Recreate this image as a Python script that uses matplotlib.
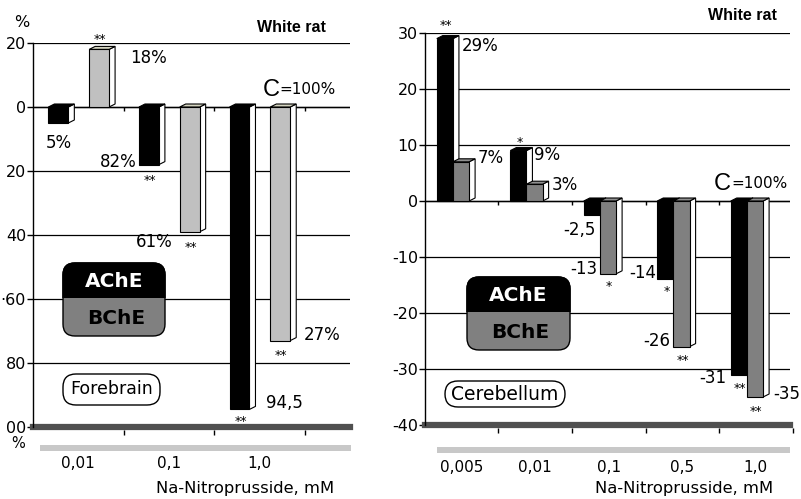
import matplotlib.pyplot as plt
from matplotlib.patches import Polygon, FancyBboxPatch, Rectangle

plt.rcParams['font.family'] = ['DejaVu Sans']

# Forebrain panel (left)
fore_doses = ['0,01', '0,1', '1,0']
fore_ache = [-5, -18, -94.5]
fore_bche = [18, -39, -73]
fore_ache_txt = ['5%', '82%', '94,5']
fore_bche_txt = ['18%', '61%', '27%']
fore_ache_sig = ['', '**', '**']
fore_bche_sig = ['**', '**', '**']
fore_yticks = [20, 0, -20, -40, -60, -80, -100]
fore_yticklabels = ['20', '0', '20', '40', '·60', '80', '00']

# Cerebellum panel (right)
cer_doses = ['0,005', '0,01', '0,1', '0,5', '1,0']
cer_ache = [29, 9, -2.5, -14, -31]
cer_bche = [7, 3, -13, -26, -35]
cer_ache_txt = ['29%', '9%', '-2,5', '-14', '-31']
cer_bche_txt = ['7%', '3%', '-13', '-26', '-35']
cer_ache_sig = ['**', '*', '', '*', '**']
cer_bche_sig = ['', '', '*', '**', '**']
cer_yticks = [30, 20, 10, 0, -10, -20, -30, -40]

# label placement (pixel offsets from the bar end)
fore_ache_off = [(0, 20, 'center'), (-12, -3, 'right'), (26, -6, 'left')]
fore_bche_off = [(31, 9, 'left'), (-17, 10, 'right'), (23, -6, 'left')]
fore_ache_star = [0, 13, 9]
fore_bche_star = [-13, 13, 12]
cer_ache_off = [(17, 7, 'left'), (16, 4, 'left'), (-12, 15, 'center'),
                (-9.5, -6, 'right'), (-12.5, 3, 'right')]
cer_bche_off = [(16.5, -4, 'left'), (17, 1, 'left'), (-10.5, -5, 'right'),
                (-11, -6, 'right'), (18, -3, 'left')]
cer_ache_star = [-16, -11, 0, 9, 11]
cer_bche_star = [0, 0, 10, 11, 12]

W, H = 801, 499
fig = plt.figure(figsize=(W / 100, H / 100), dpi=100)
tr = fig.dpi_scale_trans


def pt(x, y):
    # pixel position (from top-left) -> inches for dpi_scale_trans
    return x / 100, (H - y) / 100


def ftext(x, y, s, **kw):
    fig.text(*pt(x, y), s, transform=tr, **kw)


def bar3d(ax, x, v, width, color, topcolor, dx, dy, z):
    x0, x1 = x - width / 2, x + width / 2
    top = max(v, 0)
    ax.add_patch(Polygon([(x1, 0), (x1 + dx, dy), (x1 + dx, v + dy), (x1, v)],
                         closed=True, fc='white', ec='black', lw=0.8, zorder=z))
    ax.add_patch(Polygon([(x0, top), (x1, top), (x1 + dx, top + dy), (x0 + dx, top + dy)],
                         closed=True, fc=topcolor, ec='black', lw=0.8, zorder=z))
    ax.bar(x, v, width, color=color, edgecolor='black', lw=0.8, zorder=z + 0.5)


def note(ax, x, v, s, dx, dy, ha='center', size=12):
    ax.annotate(s, (x, v), xytext=(dx * 0.72, -dy * 0.72), textcoords='offset points',
                ha=ha, va='center', fontsize=size, zorder=10)


def setup(ax, ymin, ymax, ngroups, ticks, labels):
    ax.set_ylim(ymin, ymax)
    ax.set_yticks(ticks)
    ax.set_yticklabels(labels, fontsize=11.5)
    ax.tick_params(axis='y', length=4, width=1, pad=1, colors='black')
    ax.set_xticks([])
    for s in ['top', 'right', 'bottom']:
        ax.spines[s].set_visible(False)
    ax.spines['left'].set_linewidth(1)
    ax.yaxis.grid(True, color='black', lw=0.9)
    ax.set_axisbelow(True)
    ax.axhline(0, color='black', lw=1, zorder=1)
    ax.axhline(ymin, color='#505050', lw=4.5, zorder=2, clip_on=False)
    bounds = list(range(1, ngroups + 1))
    span = ymax - ymin
    ax.vlines(bounds, 0, -span * 0.011, color='black', lw=1, zorder=1)
    ax.vlines(bounds, ymin - span * 0.008, ymin - span * 0.02, color='black', lw=1, clip_on=False)


def legend(x0, y0, x1, y1, ymid):
    a, b = pt(x0, y1)
    c, d = pt(x1, y0)
    m = pt(0, ymid)[1]
    style = 'round,pad=0,rounding_size=0.12'
    fig.patches.append(FancyBboxPatch((a, b), c - a, d - b, boxstyle=style, transform=tr,
                                      fc='#808080', ec='black', lw=1))
    blk = FancyBboxPatch((a, b), c - a, d - b, boxstyle=style, transform=tr,
                         fc='black', ec='black', lw=1)
    blk.set_clip_path(Rectangle((a - 0.1, m), c - a + 0.2, d - m + 0.1, transform=tr))
    fig.patches.append(blk)
    ftext((x0 + x1) / 2, (y0 + ymid) / 2 + 1, 'AChE', color='white', fontsize=14.5,
          fontweight='bold', ha='center', va='center')
    ftext((x0 + x1) / 2 + 2, (ymid + y1) / 2 + 1, 'BChE', color='black', fontsize=14.5,
          fontweight='bold', ha='center', va='center')


def tag(x0, y0, x1, y1, s, size):
    a, b = pt(x0, y1)
    c, d = pt(x1, y0)
    fig.patches.append(FancyBboxPatch((a, b), c - a, d - b, boxstyle='round,pad=0,rounding_size=0.13',
                                      transform=tr, fc='white', ec='black', lw=1))
    ftext((x0 + x1) / 2, (y0 + y1) / 2, s, fontsize=size, ha='center', va='center')


# ---------- left: forebrain ----------
axL = fig.add_axes([33 / W, (H - 427) / H, 317 / W, 384 / H])
axL.set_xlim(0, 3.5)
setup(axL, -100, 20, 3, fore_yticks, fore_yticklabels)
dxL, dyL = 6 / 90.5, 3 / 3.2
for i in range(len(fore_doses)):
    xa, xb = i + 0.28, i + 0.73
    bar3d(axL, xa, fore_ache[i], 0.22, 'black', 'black', dxL, dyL, 3)
    bar3d(axL, xb, fore_bche[i], 0.22, '#c0c0c0', '#d4d4c0', dxL, dyL, 4)
    ox, oy, ha = fore_ache_off[i]
    note(axL, xa, fore_ache[i], fore_ache_txt[i], ox, oy, ha)
    ox, oy, ha = fore_bche_off[i]
    note(axL, xb, fore_bche[i], fore_bche_txt[i], ox, oy, ha)
    if fore_ache_sig[i]:
        note(axL, xa, fore_ache[i], fore_ache_sig[i], 1, fore_ache_star[i] + 3, size=9)
    if fore_bche_sig[i]:
        note(axL, xb, fore_bche[i], fore_bche_sig[i], 1, fore_bche_star[i] + 3, size=9)
    ftext(33 + (i + 0.5) * 90.5, 464, fore_doses[i], fontsize=11, ha='center', va='center')

# ---------- right: cerebellum ----------
axR = fig.add_axes([425 / W, (H - 425) / H, 365 / W, 392 / H])
axR.set_xlim(0, 365 / 73.5)
setup(axR, -40, 30, 5, cer_yticks, [str(t) for t in cer_yticks])
dxR, dyR = 6 / 73.5, 3 / 5.6
for i in range(len(cer_doses)):
    xa, xb = i + 0.27, i + 0.49
    bar3d(axR, xa, cer_ache[i], 0.22, 'black', 'black', dxR, dyR, 3)
    bar3d(axR, xb, cer_bche[i], 0.22, '#808080', '#909090', dxR, dyR, 4)
    ox, oy, ha = cer_ache_off[i]
    note(axR, xa, cer_ache[i], cer_ache_txt[i], ox, oy, ha)
    ox, oy, ha = cer_bche_off[i]
    note(axR, xb, cer_bche[i], cer_bche_txt[i], ox, oy, ha)
    if cer_ache_sig[i]:
        note(axR, xa, cer_ache[i], cer_ache_sig[i], 1, cer_ache_star[i] + 3, size=9)
    if cer_bche_sig[i]:
        note(axR, xb, cer_bche[i], cer_bche_sig[i], 1, cer_bche_star[i] + 3, size=9)
    ftext(425 + (i + 0.5) * 73.5, 467, cer_doses[i], fontsize=11, ha='center', va='center')

# light grey floor strips under the plots
for x0, x1, y0 in [(40, 351, 445), (437, 790, 447)]:
    a, b = pt(x0, y0 + 6)
    fig.patches.append(Rectangle((a, b), (x1 - x0) / 100, 0.06, transform=tr,
                                 fc='#c8c8c8', ec='none'))

# texts
ftext(22, 22, '%', fontsize=11.5, ha='center', va='center')
ftext(18, 443, '%', fontsize=10.5, ha='center', va='center')
ftext(291, 28, 'White rat', fontsize=11.5, fontweight='bold', ha='center', va='center',
      family='Liberation Sans')
ftext(742, 15, 'White rat', fontsize=11.5, fontweight='bold', ha='center', va='center',
      family='Liberation Sans')
ftext(271, 90, 'C', fontsize=17, ha='center', va='center', family='Liberation Sans')
ftext(279, 89, '=100%', fontsize=11, ha='left', va='center')
ftext(722, 184, 'C', fontsize=17, ha='center', va='center', family='Liberation Sans')
ftext(731, 183, '=100%', fontsize=11, ha='left', va='center')
ftext(245, 488, 'Na-Nitroprusside, mM', fontsize=11.8, ha='center', va='center')
ftext(684, 488, 'Na-Nitroprusside, mM', fontsize=11.8, ha='center', va='center')

legend(63, 263, 165, 336, 298)
legend(467, 277, 570, 350, 312)
tag(63, 374, 160, 405, 'Forebrain', 12.5)
tag(445, 381, 565, 407, 'Cerebellum', 13.5)

fig.savefig('out.png', dpi=100)
